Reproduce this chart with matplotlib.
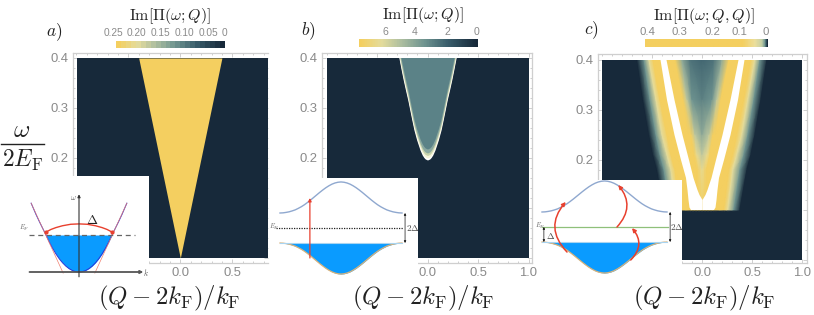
import numpy as np
import matplotlib
matplotlib.use("Agg")
import matplotlib.pyplot as plt
from matplotlib.colors import LinearSegmentedColormap
from matplotlib.lines import Line2D
from matplotlib.patches import FancyArrowPatch, Rectangle

plt.rcParams['font.family'] = ['Liberation Sans', 'DejaVu Sans']
plt.rcParams['mathtext.fontset'] = 'cm'

W, H = 814, 315
DARK = '#17293a'
YELLOW = '#f4cf60'
GREY = '#8a8a8a'
FRAME = '#cfcfcf'
BLUE = '#0a9bff'
RED = '#e8402e'

# panel a: wedge edges
wedge_omega = [0.0, 0.4]
wedge_half = [0.0, 0.4]

# panel b: edge of the bright region
edge_omega = [0.2, 0.202, 0.205, 0.21, 0.22, 0.24, 0.26, 0.28, 0.30, 0.32, 0.34, 0.36, 0.38, 0.40, 0.44]
edge_half = [0.0, 0.022, 0.036, 0.052, 0.074, 0.107, 0.134, 0.155, 0.175, 0.195, 0.218, 0.24, 0.26, 0.279, 0.315]

# panel c: half widths of colour stops, one row per omega
c_omega = [0.097, 0.10, 0.18, 0.21, 0.25, 0.32, 0.40]
c_half = [
    [0, 0.03, 0.06, 0.09, 0.12, 0.22, 0.26, 0.32, 0.38, 1.0],
    [0, 0.03, 0.06, 0.09, 0.12, 0.22, 0.26, 0.32, 0.38, 1.0],
    [0, 0.03, 0.05, 0.07, 0.14, 0.27, 0.31, 0.38, 0.45, 1.0],
    [0, 0.05, 0.08, 0.10, 0.19, 0.31, 0.35, 0.42, 0.49, 1.0],
    [0, 0.07, 0.11, 0.14, 0.25, 0.35, 0.40, 0.46, 0.53, 1.0],
    [0, 0.10, 0.15, 0.19, 0.32, 0.42, 0.46, 0.52, 0.59, 1.0],
    [0, 0.12, 0.20, 0.27, 0.40, 0.49, 0.53, 0.58, 0.65, 1.0],
]
c_level = [
    [0, 0, 0, 0, 0, 0, 0, 0, 0, 0],
    [1, 1, 1, 1, 1, 1, 0.82, 0.45, 0, 0],
    [0.85, 0.95, 1, 1, 1, 1, 0.82, 0.45, 0, 0],
    [0.7, 0.85, 1, 1, 1, 1, 0.82, 0.45, 0, 0],
    [0.55, 0.7, 1, 1, 1, 1, 0.82, 0.45, 0, 0],
    [0.38, 0.45, 0.7, 1, 1, 1, 0.82, 0.45, 0, 0],
    [0.28, 0.33, 0.55, 1, 1, 1, 0.82, 0.45, 0, 0],
]
white_omega = [0.10, 0.105, 0.12, 0.13, 0.14, 0.164, 0.20, 0.25, 0.32, 0.40]
white_outer = [0.115, 0.13, 0.14, 0.145, 0.15, 0.165, 0.215, 0.28, 0.355, 0.42]
white_inner = [0, 0, 0, 0.03, 0.05, 0.09, 0.135, 0.20, 0.28, 0.36]

# insets
para_k = [0, 0.1, 0.2, 0.3, 0.4, 0.5, 0.6, 0.7, 0.8, 0.9, 1.0, 1.1, 1.2, 1.3, 1.45]
para_e = [0, 0.01, 0.04, 0.09, 0.16, 0.25, 0.36, 0.49, 0.64, 0.81, 1.0, 1.18, 1.36, 1.55, 1.86]
tangent_k = [0.48, 1.45]
tangent_e = [-0.03, 1.86]
arc_k = [-1.0, -0.85, -0.7, -0.5, -0.25, 0, 0.25, 0.5, 0.7, 0.85, 1.0]
arc_e = [1.08, 1.15, 1.2, 1.25, 1.29, 1.3, 1.29, 1.25, 1.2, 1.15, 1.08]
bell_k = [0, 0.05, 0.1, 0.15, 0.2, 0.25, 0.3, 0.35, 0.4, 0.45, 0.5, 0.55, 0.6, 0.65, 0.7, 0.75, 0.8, 0.85, 0.9, 0.95, 1.0]
bell_e = [2.07, 2.05, 2.0, 1.92, 1.81, 1.68, 1.53, 1.37, 1.2, 1.03, 0.86, 0.7, 0.55, 0.42, 0.31, 0.21, 0.14, 0.08, 0.04, 0.01, 0.0]

# colourbars
cbar_a_ticks = ['0.25', '0.20', '0.15', '0.10', '0.05', '0']
cbar_b_ticks = ['6', '4', '2', '0']
cbar_c_ticks = ['0.4', '0.3', '0.2', '0.1', '0']

cmap = LinearSegmentedColormap.from_list('im', [
    (0.0, DARK), (0.25, '#3a5e6c'), (0.45, '#6f9490'), (0.65, '#aebfa0'),
    (0.82, '#e4dc9c'), (1.0, YELLOW)])
cmap_c = LinearSegmentedColormap.from_list('imc', [
    (0.0, DARK), (0.015, '#5f8a8c'), (0.04, '#c3cfa6'), (0.1, '#ecdf9c'), (0.2, YELLOW), (1.0, YELLOW)])

fig = plt.figure(figsize=(W / 100, H / 100), dpi=100)


def px_text(x, y, s, **kw):
    kw.setdefault('ha', 'center')
    kw.setdefault('va', 'center')
    return fig.text(x / W, 1 - y / H, s, **kw)


def make_panel(l, r, t, b, x0, sx, y0, sy, xr, right=True):
    ax = fig.add_axes([l / W, 1 - b / H, (r - l) / W, (b - t) / H])
    ax.set_xticks([-0.5, 0, 0.5, 1.0])
    ax.set_yticks([0, 0.1, 0.2, 0.3, 0.4])
    ax.set_xticks(np.arange(-1, 1.01, 0.1), minor=True)
    ax.set_yticks(np.arange(0, 0.401, 0.02), minor=True)
    ax.set_xlim((l - x0) / sx, (r - x0) / sx)
    ax.set_ylim((y0 - b) / sy, (y0 - t) / sy)
    ax.xaxis.set_major_formatter(lambda v, p: f'{abs(v):.1f}' if v >= 0 else f'-{abs(v):.1f}')
    ax.yaxis.set_major_formatter(lambda v, p: f'{v:.1f}')
    ax.tick_params(which='both', direction='in', top=True, right=True, color=FRAME,
                   labelcolor=GREY, labelsize=9.4, width=0.7)
    ax.tick_params(which='major', length=3, pad=3)
    ax.tick_params(which='minor', length=1.5)
    for s in ax.spines.values():
        s.set_color(FRAME)
        s.set_linewidth(0.9)
    ax.spines['right'].set_visible(right)
    bg = Rectangle((xr[0], 0), xr[1] - xr[0], 0.4, fc=DARK, ec='none', zorder=2.5)
    ax.add_patch(bg)
    return ax, bg


def colorbar(l, r, t, b, cm, steps):
    ax = fig.add_axes([l / W, 1 - b / H, (r - l) / W, (b - t) / H])
    ax.imshow(np.linspace(1, 0, steps)[None, :], cmap=cm, aspect='auto', vmin=0, vmax=1)
    ax.axis('off')


def make_inset(l, r, t, b, xlim, ylim):
    ax = fig.add_axes([l / W, 1 - b / H, (r - l) / W, (b - t) / H], zorder=5)
    ax.set_xlim(*xlim)
    ax.set_ylim(*ylim)
    ax.axis('off')
    ax.add_patch(Rectangle((0, 0), 1, 1, transform=ax.transAxes, fc='white', ec='none', zorder=0))
    return ax


def arrow(ax, p, q, rad=0.0, color='k', style='-|>', lw=0.8, ms=5):
    ax.add_patch(FancyArrowPatch(p, q, connectionstyle=f'arc3,rad={rad}', arrowstyle=style,
                                 mutation_scale=ms, color=color, lw=lw,
                                 shrinkA=0, shrinkB=0, zorder=6))


def bands(ax):
    k = np.r_[-np.array(bell_k)[:0:-1], bell_k]
    e = np.r_[np.array(bell_e)[:0:-1], bell_e]
    ax.plot(k, 1 + e, color='#8fa8cf', lw=1.0)
    ax.fill_between(k, -1, -1 - e, color=BLUE, lw=0)
    ax.plot(k, -1 - e, color='#d9b27a', lw=0.9)
    ax.plot(k, -1 + 0 * e, color='#a9d4f0', lw=0.8)


# panel a
ax_a, bg_a = make_panel(73, 268, 53, 262.5, 180.3, 104, 258, 500, (-0.993, 0.84), right=False)
ax_a.fill_betweenx(wedge_omega, -np.array(wedge_half), wedge_half, color=YELLOW, lw=0, zorder=3)

# panel b
ax_b, bg_b = make_panel(322, 532, 53, 263, 427.5, 101, 258, 500, (-1.0, 1.0))
omega_b = np.array(edge_omega)
half_b = np.array(edge_half)
for shift, col in [(-0.004, '#ffffff'), (0.0, '#f6f4d8'), (0.005, '#c8d3ac'),
                   (0.010, '#8aa8a0'), (0.018, '#5b8287')]:
    f = ax_b.fill_betweenx(omega_b + shift, -half_b, half_b, color=col, lw=0, zorder=3)
    f.set_clip_path(bg_b)

# panel c
ax_c, bg_c = make_panel(598, 807, 54, 263, 702, 100, 259.5, 500, (-1.0, 1.0))
half_c = np.array(c_half)
level_c = np.array(c_level)
mesh_x = np.hstack([-half_c[:, :0:-1], half_c])
mesh_c = np.hstack([level_c[:, :0:-1], level_c])
mesh_y = np.tile(np.array(c_omega)[:, None], (1, mesh_x.shape[1]))
m = ax_c.pcolormesh(mesh_x, mesh_y, mesh_c, shading='gouraud', cmap=cmap, vmin=0, vmax=1, zorder=3)
m.set_clip_path(bg_c)
for sign in (-1, 1):
    ax_c.fill_betweenx(white_omega, sign * np.array(white_inner), sign * np.array(white_outer),
                       color='white', lw=0, zorder=4)

# colourbars and titles
colorbar(116, 225, 41, 48, cmap, 22)
colorbar(359, 478, 39, 47, cmap, 44)
colorbar(645, 768, 39, 47, cmap_c, 80)
for p, s in zip([113, 136, 160, 184, 208, 224], cbar_a_ticks):
    px_text(p, 33, s, color=GREY, fontsize=7.3)
for p, s in zip([385, 415, 447, 477], cbar_b_ticks):
    px_text(p, 32, s, color=GREY, fontsize=7.6)
for p, s in zip([647, 679, 712, 739, 766], cbar_c_ticks):
    px_text(p, 32, s, color=GREY, fontsize=8.2)
px_text(170, 16, r'$\mathrm{Im}[\Pi(\omega;Q)]$', fontsize=11.5, color='#222222')
px_text(423, 15, r'$\mathrm{Im}[\Pi(\omega;Q)]$', fontsize=11.5, color='#222222')
px_text(704, 16, r'$\mathrm{Im}[\Pi(\omega;Q,Q)]$', fontsize=11.5, color='#222222')
px_text(54, 32, r'$a)$', fontsize=12.5, color='#222222')
px_text(308, 31, r'$b)$', fontsize=12.5, color='#222222')
px_text(591, 30, r'$c)$', fontsize=12.5, color='#222222')

# axis labels
for x in (169, 423, 704):
    px_text(x, 298, r'$(Q-2k_{\mathrm{F}})/k_{\mathrm{F}}$', fontsize=17.8, color='#222222', zorder=10)
px_text(22, 130, r'$\omega$', fontsize=18, color='#222222')
px_text(23, 160, r'$2E_{\mathrm{F}}$', fontsize=17, color='#222222')
fig.add_artist(Line2D([1 / W, 44 / W], [1 - 144 / H, 1 - 144 / H], color='#222222', lw=1.0))

# inset a
in_a = make_inset(0, 149, 176, 286, (-79 / 33, 70 / 33), (-14 / 37, 96 / 37))
k = np.array(para_k)
e = np.array(para_e)
kk = np.r_[-k[:0:-1], k]
ee = np.r_[e[:0:-1], e]
inner = np.abs(kk) <= 1.0
in_a.fill_between(kk[inner], ee[inner], 1.0, color=BLUE, lw=0, zorder=1)
in_a.plot(kk, ee, color='#2b35d8', lw=0.7, zorder=2)
for sign in (-1, 1):
    in_a.plot(sign * np.array(tangent_k), tangent_e, color='#f08070', lw=0.5, zorder=2)
in_a.plot([-1.52, 1.7], [1.0, 1.0], color='#666666', lw=0.9, ls=(0, (4, 3)), zorder=3)
in_a.plot(arc_k, arc_e, color=RED, lw=1.0, zorder=4)
in_a.plot([arc_k[0], arc_k[-1]], [arc_e[0], arc_e[-1]], 'o', color=RED, ms=2.0, zorder=4)
arrow(in_a, (-1.5, 0), (1.95, 0), color='#555555', lw=1.3, ms=4)
arrow(in_a, (0, -0.13), (0, 2.1), color='#333333', lw=0.8, ms=4)
in_a.text(-0.18, 2.0, r'$\omega$', fontsize=5.5, color='#555555', ha='center', va='center')
in_a.text(2.03, 0, r'$k$', fontsize=5.5, color='#555555', ha='center', va='center')
in_a.text(0.4, 1.4, r'$\Delta$', fontsize=9.5, color='#222222', ha='center', va='center')
in_a.text(-1.67, 1.19, r'$E_F$', fontsize=4.8, color='#666666', ha='center', va='center')

# inset b
in_b = make_inset(270, 418, 178, 290, (-71 / 61, 77 / 61), (-62 / 15, 50 / 15))
bands(in_b)
in_b.plot([-1.07, 1.02], [0, 0], color='#222222', lw=0.9, ls=(0, (1, 1)))
arrow(in_b, (-0.51, -2.0), (-0.51, 2.0), color=RED, lw=0.9, ms=4.5)
arrow(in_b, (1.05, 1.0), (1.05, -1.0), color='#111111', style='<|-|>', lw=0.5, ms=3)
in_b.text(1.17, 0, r'$2\Delta$', fontsize=6.5, color='#444444', ha='center', va='center')
in_b.text(-1.10, 0.1, r'$E_F$', fontsize=4.8, color='#666666', ha='center', va='center')

# inset c
in_c = make_inset(537, 682, 180, 290, (-67.5 / 62.5, 77.5 / 62.5), (-63 / 15, 47 / 15))
bands(in_c)
in_c.plot([-1.0, 1.02], [0, 0], color='#8fc07a', lw=0.9)
arrow(in_c, (-0.6, -1.67), (-0.62, 1.67), rad=-0.45, color=RED, lw=1.1, ms=5.5)
arrow(in_c, (0.2, 0), (0.22, 2.8), rad=0.43, color=RED, lw=1.1, ms=5.5)
arrow(in_c, (0.42, -2.2), (0.44, -0.07), rad=0.45, color=RED, lw=1.1, ms=5.5)
arrow(in_c, (1.05, 1.0), (1.05, -1.0), color='#111111', style='<|-|>', lw=0.5, ms=3)
arrow(in_c, (-0.97, 0), (-0.97, -1.0), color='#111111', style='<|-|>', lw=0.5, ms=3)
in_c.text(1.16, 0, r'$2\Delta$', fontsize=6.5, color='#444444', ha='center', va='center')
in_c.text(-0.87, -0.6, r'$\Delta$', fontsize=6.5, color='#444444', ha='center', va='center')
in_c.text(-1.03, 0.1, r'$E_F$', fontsize=4.8, color='#666666', ha='center', va='center')

fig.savefig('out.png', dpi=100)
